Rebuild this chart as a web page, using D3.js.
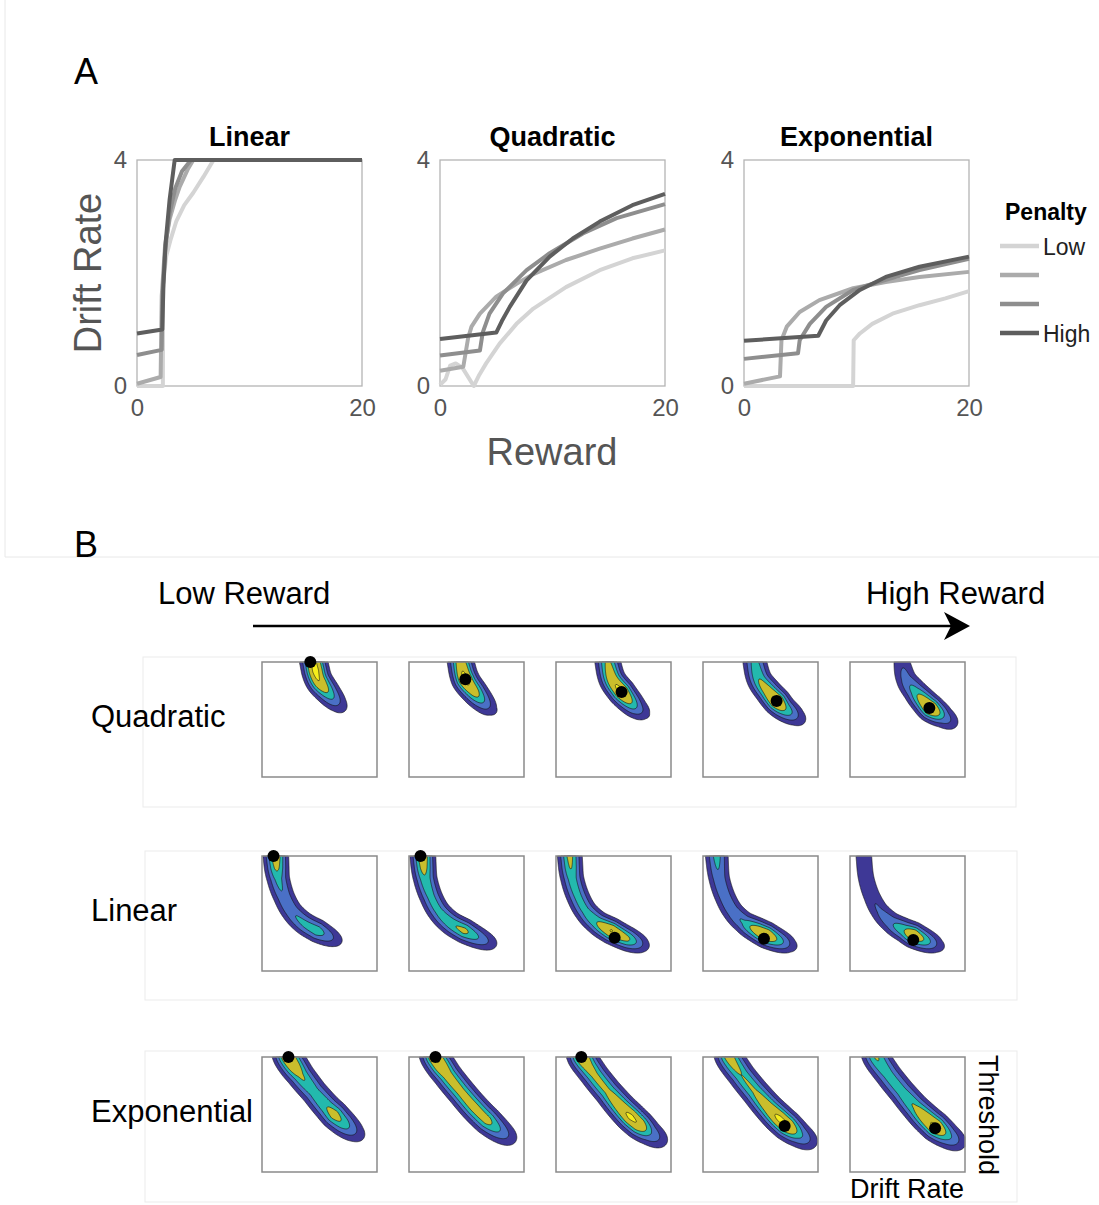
<!DOCTYPE html>
<html>
<head>
<meta charset="utf-8">
<script src="https://cdn.jsdelivr.net/npm/d3@7"></script>
<style>
  body { margin: 0; background: #fff; }
  text { font-family: "Liberation Sans", Arial, sans-serif; }
</style>
</head>
<body>
<svg width="1099" height="1205"></svg>
<script>
// ---------- panel A data: drift rate vs reward, one curve per penalty level ----------
const modelNames = ['Linear', 'Quadratic', 'Exponential'];
const penaltyLabels = ['Low', '', '', 'High'];
const penaltyColors = ['#d4d4d4', '#ababab', '#8e8e8e', '#5e5e5e'];
const rewardTicks = [0, 20];
const driftTicks = [0, 4];

const linearLow = [[0,0],[2.3,0],[2.32,1.8],[2.6,2.3],[3.0,2.6],[3.5,2.92],[4.2,3.2],[5.0,3.42],[5.9,3.7],[6.8,4.0],[20,4]];
const linearMidLow = [[0,0.04],[2.1,0.16],[2.2,1.6],[2.5,2.5],[2.9,2.95],[3.4,3.3],[3.8,3.53],[4.5,3.83],[5.0,4.0],[20,4]];
const linearMidHigh = [[0,0.55],[2.2,0.64],[2.25,1.5],[2.5,2.4],[2.9,3.05],[3.4,3.5],[4.0,3.8],[4.8,4.0],[20,4]];
const linearHigh = [[0,0.93],[2.25,1.0],[2.35,1.8],[2.55,2.55],[2.9,3.3],[3.35,4.0],[20,4]];

const quadraticLow = [[0,0.02],[0.5,0.12],[0.9,0.36],[1.4,0.4],[2.0,0.32],[3.0,0],[3.5,0.2],[4.1,0.4],[5.3,0.75],[6.8,1.1],[8.3,1.37],[11.2,1.75],[14.2,2.05],[17.1,2.26],[20,2.4]];
const quadraticMidLow = [[0,0.27],[2.07,0.34],[2.5,0.85],[2.8,1.05],[3.55,1.28],[5.0,1.58],[6.8,1.81],[8.3,1.98],[11.2,2.23],[14.2,2.43],[17.1,2.61],[20,2.77]];
const quadraticMidHigh = [[0,0.54],[3.55,0.63],[3.8,0.95],[4.4,1.28],[5.6,1.64],[7.7,2.05],[9.75,2.35],[12.7,2.7],[15.7,2.97],[20,3.22]];
const quadraticHigh = [[0,0.83],[5.0,0.945],[5.5,1.15],[6.2,1.4],[7.7,1.87],[9.75,2.29],[11.8,2.61],[14.2,2.91],[17.1,3.2],[20,3.4]];

const exponentialLow = [[0,0],[9.7,0],[9.75,0.81],[10.3,0.93],[11.4,1.1],[13.2,1.28],[15.6,1.43],[17.9,1.55],[20,1.68]];
const exponentialMidLow = [[0,0.04],[3.2,0.17],[3.33,0.81],[3.8,1.05],[4.95,1.31],[6.7,1.52],[9.7,1.73],[12.6,1.84],[15.6,1.93],[20,2.02]];
const exponentialMidHigh = [[0,0.48],[4.8,0.58],[4.95,0.81],[5.85,1.1],[7.3,1.4],[9.7,1.7],[12.6,1.88],[15.6,2.05],[20,2.25]];
const exponentialHigh = [[0,0.8],[6.6,0.89],[7.3,1.16],[8.5,1.43],[10.3,1.7],[12.6,1.93],[15.6,2.11],[20,2.29]];

// ---------- panel B data: likelihood ridges in (drift, threshold) box fractions, y from top ----------
const rowModels = ['Quadratic', 'Linear', 'Exponential'];

const quadraticRidge = [[0.43,-0.12],[0.45,0],[0.49,0.15],[0.57,0.26],[0.64,0.34],[0.70,0.40],[0.80,0.47],[0.92,0.55]];
const linearRidge = [[0.11,-0.12],[0.12,0],[0.14,0.19],[0.19,0.35],[0.26,0.48],[0.36,0.58],[0.48,0.65],[0.62,0.72],[0.74,0.77],[0.86,0.815]];
const exponentialRidge = [[0.19,-0.12],[0.23,0],[0.33,0.15],[0.45,0.30],[0.57,0.44],[0.68,0.55],[0.80,0.65],[0.92,0.73],[1.03,0.785]];

// likelihood height along the ridge: [drift, threshold, height], one list per reward level
const quadraticHeights = [
  [[0.43,-0.12,0.9],[0.46,0.08,1.0],[0.51,0.18,0.85],[0.58,0.27,0.5],[0.65,0.35,0.2],[0.73,0.42,0]],
  [[0.43,-0.12,0.6],[0.45,0,0.75],[0.49,0.15,1.0],[0.57,0.26,0.7],[0.64,0.34,0.35],[0.70,0.40,0.12],[0.78,0.46,0]],
  [[0.43,-0.12,0.45],[0.45,0,0.6],[0.49,0.15,0.8],[0.57,0.26,1.0],[0.64,0.34,0.6],[0.70,0.40,0.3],[0.76,0.445,0.1],[0.84,0.495,0]],
  [[0.43,-0.12,0.3],[0.45,0,0.42],[0.49,0.15,0.55],[0.57,0.26,0.75],[0.64,0.34,1.0],[0.70,0.40,0.6],[0.80,0.47,0.2],[0.88,0.525,0]],
  [[0.43,-0.12,0.1],[0.45,0,0.14],[0.49,0.15,0.25],[0.57,0.26,0.45],[0.64,0.34,0.75],[0.70,0.40,1.0],[0.80,0.47,0.35],[0.92,0.55,0]]
];
const linearHeights = [
  [[0.11,-0.12,0.75],[0.12,0,0.72],[0.13,0.1,0.6],[0.14,0.19,0.42],[0.19,0.35,0.32],[0.26,0.48,0.32],[0.36,0.58,0.4],[0.48,0.65,0.47],[0.62,0.72,0.15],[0.70,0.755,0]],
  [[0.11,-0.12,0.78],[0.12,0,0.75],[0.13,0.1,0.65],[0.14,0.19,0.5],[0.19,0.35,0.42],[0.26,0.48,0.42],[0.36,0.58,0.5],[0.48,0.65,0.62],[0.62,0.72,0.3],[0.76,0.775,0]],
  [[0.11,-0.12,0.65],[0.12,0,0.62],[0.13,0.1,0.56],[0.14,0.19,0.45],[0.19,0.35,0.42],[0.26,0.48,0.42],[0.36,0.58,0.55],[0.48,0.65,0.9],[0.62,0.72,0.6],[0.74,0.77,0.15],[0.80,0.795,0]],
  [[0.11,-0.12,0.45],[0.12,0,0.42],[0.13,0.1,0.36],[0.14,0.19,0.3],[0.19,0.35,0.28],[0.26,0.48,0.29],[0.36,0.58,0.38],[0.48,0.65,0.75],[0.55,0.69,0.9],[0.62,0.72,0.6],[0.74,0.77,0.15],[0.82,0.80,0]],
  [[0.11,-0.12,0.15],[0.12,0,0.15],[0.14,0.19,0.15],[0.19,0.35,0.16],[0.26,0.48,0.2],[0.36,0.58,0.3],[0.48,0.65,0.55],[0.55,0.69,0.85],[0.62,0.72,0.6],[0.74,0.77,0.15],[0.83,0.805,0]]
];
const exponentialHeights = [
  [[0.19,-0.12,0.85],[0.23,0,0.92],[0.28,0.08,0.8],[0.33,0.15,0.6],[0.45,0.30,0.45],[0.57,0.44,0.55],[0.63,0.5,0.68],[0.70,0.57,0.5],[0.80,0.65,0.18],[0.88,0.71,0]],
  [[0.19,-0.12,0.8],[0.23,0,0.92],[0.28,0.08,0.85],[0.33,0.15,0.7],[0.45,0.30,0.65],[0.57,0.44,0.68],[0.68,0.55,0.65],[0.80,0.65,0.3],[0.92,0.73,0]],
  [[0.19,-0.12,0.75],[0.23,0,0.88],[0.28,0.08,0.7],[0.33,0.15,0.62],[0.45,0.30,0.6],[0.57,0.44,0.8],[0.65,0.52,0.95],[0.72,0.58,0.85],[0.80,0.65,0.4],[0.95,0.745,0]],
  [[0.19,-0.12,0.6],[0.23,0,0.7],[0.33,0.15,0.55],[0.45,0.30,0.58],[0.57,0.44,0.75],[0.66,0.53,0.95],[0.72,0.60,0.95],[0.82,0.67,0.45],[0.97,0.755,0]],
  [[0.19,-0.12,0.55],[0.23,0,0.58],[0.28,0.08,0.5],[0.33,0.15,0.45],[0.45,0.30,0.45],[0.57,0.44,0.58],[0.66,0.53,0.8],[0.74,0.61,0.95],[0.84,0.68,0.45],[0.98,0.76,0]]
];

// best-fitting parameters (black dots)
const quadraticBest = [[0.42,0.0],[0.49,0.15],[0.57,0.26],[0.64,0.34],[0.69,0.40]];
const linearBest = [[0.10,0.0],[0.10,0.0],[0.51,0.71],[0.53,0.72],[0.55,0.73]];
const exponentialBest = [[0.23,0.0],[0.23,0.0],[0.22,0.0],[0.71,0.60],[0.74,0.62]];

const ridgeSpread = [0.052, 0.05, 0.057];
const contourLevels = [0.06, 0.18, 0.35, 0.55, 0.88];
const contourColors = ['#3e3896', '#4a70c6', '#23b9ad', '#cabe2c', '#f6ee1b'];

const svg = d3.select('svg');

// ================= PANEL A =================
svg.append('path')
    .attr('d', 'M5,0V557H1099')
    .attr('fill', 'none')
    .attr('stroke', '#e8e8e8');

svg.append('text').attr('x', 74).attr('y', 84).attr('font-size', 36).text('A');

const curvesByModel = {
  Linear: [linearLow, linearMidLow, linearMidHigh, linearHigh],
  Quadratic: [quadraticLow, quadraticMidLow, quadraticMidHigh, quadraticHigh],
  Exponential: [exponentialLow, exponentialMidLow, exponentialMidHigh, exponentialHigh]
};

const panelLeft = [137, 440, 744];
const plotW = 225, plotTop = 160, plotBottom = 386;

const yScale = d3.scaleLinear().domain([0, 4]).range([plotBottom, plotTop]);

modelNames.forEach((name, i) => {
  const x = d3.scaleLinear().domain([0, 20]).range([panelLeft[i], panelLeft[i] + plotW]);
  const g = svg.append('g');

  g.append('g')
      .attr('transform', `translate(0,${plotBottom})`)
      .call(d3.axisBottom(x).tickValues(rewardTicks).tickFormat(d3.format('d')).tickSize(0).tickPadding(13))
      .call(a => a.select('.domain').remove())
      .selectAll('text')
        .attr('font-size', 24)
        .attr('fill', '#555')
        .style('font-family', '"Liberation Sans", Arial, sans-serif');

  g.append('g')
      .attr('transform', `translate(${panelLeft[i]},0)`)
      .call(d3.axisLeft(yScale).tickValues(driftTicks).tickFormat(d3.format('d')).tickSize(0).tickPadding(10))
      .call(a => a.select('.domain').remove())
      .selectAll('text')
        .attr('font-size', 24)
        .attr('fill', '#555')
        .style('font-family', '"Liberation Sans", Arial, sans-serif');

  g.append('rect')
      .attr('x', panelLeft[i]).attr('y', plotTop)
      .attr('width', plotW).attr('height', plotBottom - plotTop)
      .attr('fill', 'none').attr('stroke', '#b4b4b4').attr('stroke-width', 1.3);

  const line = d3.line().x(d => x(d[0])).y(d => yScale(d[1]));

  g.selectAll('path.curve').data(curvesByModel[name])
    .enter().append('path')
      .attr('class', 'curve')
      .attr('d', line)
      .attr('fill', 'none')
      .attr('stroke', (d, k) => penaltyColors[k])
      .attr('stroke-width', 4)
      .attr('stroke-linejoin', 'round');

  g.append('text')
      .attr('x', panelLeft[i] + plotW / 2)
      .attr('y', 146)
      .attr('text-anchor', 'middle')
      .attr('font-size', 27)
      .attr('font-weight', 'bold')
      .text(name);
});

svg.append('text')
    .attr('transform', 'translate(101,273) rotate(-90)')
    .attr('text-anchor', 'middle')
    .attr('font-size', 38)
    .attr('fill', '#555')
    .text('Drift Rate');

svg.append('text')
    .attr('x', 552).attr('y', 465)
    .attr('text-anchor', 'middle')
    .attr('font-size', 38)
    .attr('fill', '#555')
    .text('Reward');

// legend
const legend = svg.append('g').attr('transform', 'translate(1000,0)');
legend.append('text')
    .attr('x', 5).attr('y', 220)
    .attr('font-size', 23).attr('font-weight', 'bold')
    .text('Penalty');
penaltyLabels.forEach((lab, k) => {
  const y = 246 + k * 29;
  legend.append('line')
      .attr('x1', 0).attr('x2', 39).attr('y1', y).attr('y2', y)
      .attr('stroke', penaltyColors[k]).attr('stroke-width', 4.5);
  legend.append('text')
      .attr('x', 43).attr('y', y + 9)
      .attr('font-size', 23).attr('fill', '#222')
      .text(lab);
});

// ================= PANEL B =================
svg.append('text').attr('x', 74).attr('y', 557).attr('font-size', 36).text('B');

svg.append('text').attr('x', 158).attr('y', 604).attr('font-size', 31).text('Low Reward');
svg.append('text').attr('x', 866).attr('y', 604).attr('font-size', 31).text('High Reward');

svg.append('line')
    .attr('x1', 253).attr('x2', 952).attr('y1', 626).attr('y2', 626)
    .attr('stroke', '#000').attr('stroke-width', 2.5);
svg.append('path')
    .attr('d', 'M970,626L944,612L951,626L944,640Z')
    .attr('fill', '#000');

const rowTop = [662, 856, 1057];
const rowFrames = [[143, 657, 873, 150], [145, 851, 872, 149], [145, 1051, 872, 151]];
const boxSize = 115;
const colX = d3.scaleLinear().domain([0, 4]).range([262, 850]);

const ridges = [quadraticRidge, linearRidge, exponentialRidge];
const heights = [quadraticHeights, linearHeights, exponentialHeights];
const bests = [quadraticBest, linearBest, exponentialBest];

const fx = d3.scaleLinear().domain([0, 1]).range([0, boxSize]);
const fy = d3.scaleLinear().domain([0, 1]).range([0, boxSize]);

// sample a smooth ridge curve in box pixels
function sampleRidge(ridge) {
  const line = d3.line().curve(d3.curveCatmullRom.alpha(0.5)).x(d => fx(d[0])).y(d => fy(d[1]));
  const p = svg.append('path').attr('d', line(ridge)).attr('fill', 'none');
  const node = p.node();
  const len = node.getTotalLength();
  const pts = d3.range(0, len, 0.5).map(l => {
    const q = node.getPointAtLength(l);
    return [q.x, q.y];
  });
  p.remove();
  return pts;
}

function heightAlong(pts, knots) {
  const idx = knots.map(k => {
    const kx = fx(k[0]), ky = fy(k[1]);
    return {i: d3.minIndex(pts, p => (p[0] - kx) ** 2 + (p[1] - ky) ** 2), h: k[2]};
  }).sort((a, b) => a.i - b.i);
  return pts.map((p, i) => {
    if (i <= idx[0].i) return idx[0].h;
    if (i >= idx[idx.length - 1].i) return 0;
    const j = idx.findIndex(k => k.i >= i);
    const a = idx[j - 1], b = idx[j];
    return a.h + (b.h - a.h) * (i - a.i) / (b.i - a.i);
  });
}

const n = 116;
const cell = boxSize / n;
const contourGen = d3.contours().size([n, n]).thresholds(contourLevels);
const geo = d3.geoPath(d3.geoIdentity().scale(cell));

rowModels.forEach((model, r) => {
  const fr = rowFrames[r];
  svg.append('rect')
      .attr('x', fr[0]).attr('y', fr[1]).attr('width', fr[2]).attr('height', fr[3])
      .attr('fill', 'none').attr('stroke', '#ebebeb').attr('stroke-width', 1);

  svg.append('text')
      .attr('x', 91).attr('y', rowTop[r] + 65)
      .attr('font-size', 31)
      .text(model);

  const pts = sampleRidge(ridges[r]);
  const sig = ridgeSpread[r] * boxSize;
  const inv = 1 / (2 * sig * sig);

  heights[r].forEach((knots, c) => {
    const h = heightAlong(pts, knots);
    const values = new Float64Array(n * n);
    for (let j = 0; j < n; j++) {
      const py = (j + 0.5) * cell;
      for (let i = 0; i < n; i++) {
        const px = (i + 0.5) * cell;
        let best = 0;
        for (let k = 0; k < pts.length; k++) {
          if (h[k] <= best) continue;
          const dx = px - pts[k][0], dy = py - pts[k][1];
          const e = (dx * dx + dy * dy) * inv;
          if (e > 6) continue;
          const v = h[k] * Math.exp(-e);
          if (v > best) best = v;
        }
        values[j * n + i] = best;
      }
    }

    const g = svg.append('g').attr('transform', `translate(${colX(c)},${rowTop[r]})`);
    g.selectAll('path').data(contourGen(values))
      .enter().append('path')
        .attr('d', geo)
        .attr('fill', (d, k) => contourColors[k])
        .attr('stroke', '#111')
        .attr('stroke-width', 0.6)
        .attr('stroke-linejoin', 'round');

    g.append('rect')
        .attr('width', boxSize).attr('height', boxSize)
        .attr('fill', 'none').attr('stroke', '#8a8a8a').attr('stroke-width', 1.5);

    g.append('circle')
        .attr('cx', fx(bests[r][c][0])).attr('cy', fy(bests[r][c][1]))
        .attr('r', 6).attr('fill', '#000');
  });
});

svg.append('text')
    .attr('transform', 'translate(979,1055) rotate(90)')
    .attr('font-size', 27)
    .text('Threshold');

svg.append('text')
    .attr('x', 850).attr('y', 1198)
    .attr('font-size', 27)
    .text('Drift Rate');
</script>
</body>
</html>
